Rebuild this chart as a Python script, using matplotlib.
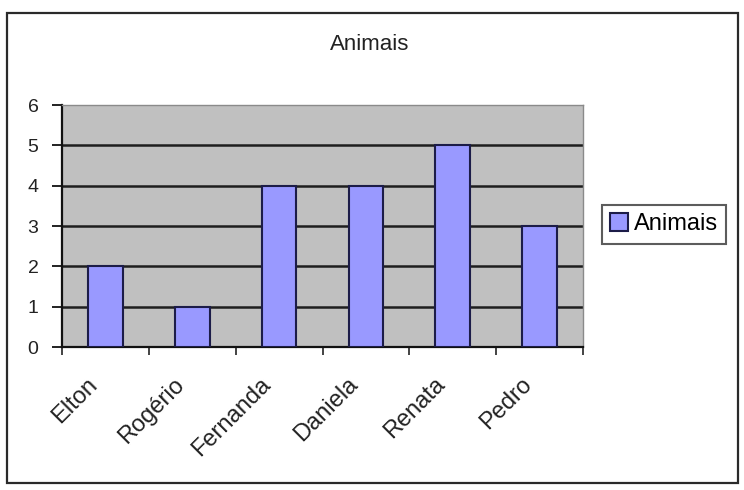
import matplotlib
matplotlib.use('Agg')
import matplotlib.pyplot as plt
import matplotlib.transforms as mtransforms
from matplotlib.patches import Rectangle
import numpy as np

# data
names = ['Elton', 'Rogério', 'Fernanda', 'Daniela', 'Renata', 'Pedro']
animais = [2, 1, 4, 4, 5, 3]
y_ticks = [0, 1, 2, 3, 4, 5, 6]

plt.rcParams['font.family'] = ['Liberation Sans', 'DejaVu Sans']

fig = plt.figure(figsize=(7.44, 4.90), dpi=100)

# outer chart border
fig.patches.append(Rectangle((7 / 744, 1 - 483 / 490), 731 / 744, 470 / 490,
                             transform=fig.transFigure, fill=False,
                             edgecolor='#2a2a2a', linewidth=1.6))

ax = fig.add_axes([62 / 744, 1 - 347 / 490, 521 / 744, 242 / 490])
ax.set_facecolor('#c0c0c0')

x = np.arange(len(names))
ax.bar(x, animais, width=0.4, color='#9999ff', edgecolor='#1c1c48',
       linewidth=1.5, zorder=3, label='Animais')

ax.set_xlim(-0.5, len(names) - 0.5)
ax.set_ylim(0, 6)
ax.set_yticks(y_ticks)
ax.tick_params(axis='y', direction='out', length=7, width=1.4,
               labelsize=14, pad=10, colors='#222222')

# gridlines
for v in y_ticks[1:-1]:
    ax.axhline(v, color='#1e1e1e', linewidth=1.8, zorder=1)

# category boundaries as major ticks, labels on minor ticks
ax.set_xticks(np.arange(-0.5, len(names), 1.0))
ax.set_xticklabels([])
ax.tick_params(axis='x', which='major', direction='out', length=6, width=1.2,
               colors='#222222')
ax.set_xticks(x, minor=True)
ax.set_xticklabels(names, minor=True, rotation=45, ha='right',
                   rotation_mode='anchor', fontsize=17, color='#222222')
ax.tick_params(axis='x', which='minor', length=0, pad=19)
offset = mtransforms.ScaledTranslation(-19 / 100, 0, fig.dpi_scale_trans)
for lab in ax.get_xticklabels(minor=True):
    lab.set_transform(lab.get_transform() + offset)

for side in ['left', 'bottom']:
    ax.spines[side].set_color('#111111')
    ax.spines[side].set_linewidth(1.6)
for side in ['top', 'right']:
    ax.spines[side].set_color('#8a8a8a')
    ax.spines[side].set_linewidth(1.0)

fig.text(370 / 744, 1 - 44 / 490, 'Animais', ha='center', va='center',
         fontsize=16, color='#222222')

leg = fig.legend(loc='upper left', bbox_to_anchor=(602 / 744, 1 - 205 / 490),
                 fontsize=17, frameon=True, fancybox=False, shadow=False,
                 edgecolor='#333333', handlelength=0.75, handleheight=0.75,
                 handletextpad=0.25, borderpad=0.35, borderaxespad=0)
leg.get_frame().set_linewidth(1.5)

fig.savefig('out.png', dpi=100)
